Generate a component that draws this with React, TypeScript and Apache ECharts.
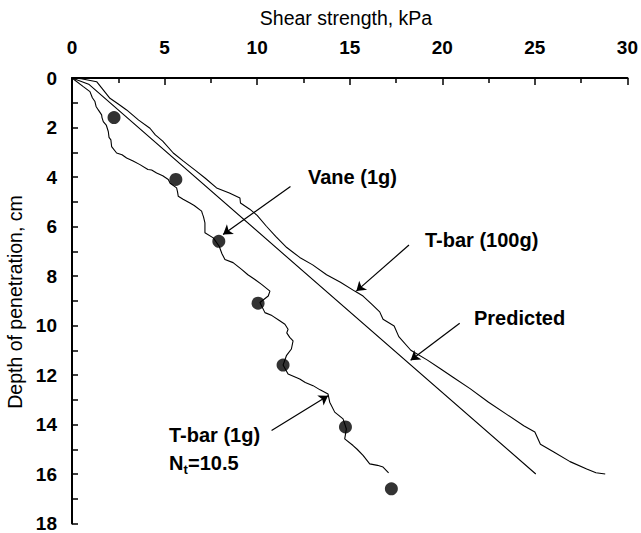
import React, { useEffect, useRef } from "react";
import * as echarts from "echarts";

// Shear strength (kPa), depth of penetration (cm)
const xTicks = [0, 5, 10, 15, 20, 25, 30];
const yTicks = [0, 2, 4, 6, 8, 10, 12, 14, 16, 18];

const tbar1g: [number, number][] = [
  [0, 0], [0.61, 0.35], [0.97, 0.55], [1.1, 0.8], [1.24, 0.95], [1.3, 1.15], [1.42, 1.29], [1.6, 1.49],
  [1.62, 1.6], [1.69, 1.76], [1.85, 1.9], [1.96, 2.16], [2.0, 2.4], [2.1, 2.5], [2.14, 2.77],
  [2.41, 3.03], [2.7, 3.1], [2.95, 3.23], [3.3, 3.35], [3.67, 3.5], [4.1, 3.7], [4.3, 3.72],
  [4.57, 3.84], [4.9, 3.95], [5.2, 4.1], [5.3, 4.25], [5.65, 4.44], [5.7, 4.6], [5.74, 4.78],
  [6.0, 4.9], [6.37, 5.05], [6.6, 5.15], [7.0, 5.38], [7.05, 5.5], [7.1, 5.6], [7.18, 5.85],
  [7.18, 6.25], [7.63, 6.46], [7.95, 6.8], [8.1, 7.1], [8.26, 7.33], [8.7, 7.46], [9.16, 7.73],
  [9.5, 7.95], [9.88, 8.14], [10.24, 8.34], [10.69, 8.61], [10.6, 8.81], [10.15, 9.07],
  [10.42, 9.48], [10.8, 9.6], [11.22, 9.81], [11.5, 9.95], [11.67, 10.15], [11.6, 10.3],
  [11.76, 10.48], [11.94, 10.62], [11.85, 10.95], [11.58, 11.22], [11.4, 11.6], [11.67, 11.96],
  [12.3, 12.16], [12.6, 12.3], [13.02, 12.43], [13.4, 12.6], [13.83, 12.77], [13.92, 13.1],
  [14.19, 13.5], [14.64, 13.77], [14.82, 14.18], [14.73, 14.58], [15.18, 14.85], [15.4, 15.0],
  [15.72, 15.25], [16.08, 15.59], [16.5, 15.65], [16.8, 15.72], [17.1, 15.95],
];

const tbar100g: [number, number][] = [
  [0, 0], [0.5, 0.03], [1.33, 0.15], [1.6, 0.4], [2.05, 0.82], [2.5, 1.05], [2.95, 1.29],
  [3.6, 1.7], [4.21, 2.03], [4.5, 2.3], [4.9, 2.55], [5.47, 3.03], [6.0, 3.35], [6.7, 3.75],
  [7.2, 4.05], [7.81, 4.44], [8.5, 4.65], [9.07, 4.85], [9.1, 5.05], [9.6, 5.3], [10.0, 5.55],
  [10.5, 5.99], [11.0, 6.4], [11.6, 6.85], [12.3, 7.25], [13.0, 7.55], [13.75, 7.95],
  [14.5, 8.25], [15.27, 8.61], [15.72, 8.81], [16.2, 9.15], [16.62, 9.45], [16.8, 9.75],
  [17.4, 10.02], [17.65, 10.45], [18.3, 11.0], [19.2, 11.4], [19.9, 11.75], [20.6, 12.1],
  [21.5, 12.55], [22.5, 13.1], [23.5, 13.6], [24.4, 14.05], [25.0, 14.3], [25.3, 14.8],
  [26.0, 15.1], [26.9, 15.5], [27.8, 15.8], [28.3, 15.95], [28.8, 16.0],
];

const predicted: [number, number][] = [[0, 0], [0.9, 0.25], [25.05, 16]];

const vane1g: [number, number][] = [
  [2.27, 1.6], [5.61, 4.1], [7.93, 6.6], [10.05, 9.1], [11.4, 11.6], [14.77, 14.1], [17.25, 16.6],
];

// leader lines (from label to target), data coordinates
const leaders: [number, number][][] = [
  [[11.8, 4.38], [8.16, 6.32]],
  [[18.2, 6.75], [15.36, 8.61]],
  [[20.94, 9.91], [18.29, 11.4]],
  [[10.78, 14.24], [13.83, 12.84]],
];

const FONT = "'Liberation Sans', Arial, sans-serif";

export default function App() {
  const ref = useRef<HTMLDivElement>(null);
  useEffect(() => {
    if (!ref.current) return;
    const chart = echarts.init(ref.current, undefined, { renderer: "svg" });
    const lineStyle = { color: "#000", width: 1.1 };
    const labelStyle = { fontFamily: FONT, fontWeight: "bold" as const, fontSize: 19, color: "#000" };
    const annStyle = { fontFamily: FONT, fontWeight: "bold", fontSize: 20, fill: "#000" };
    chart.setOption({
      animation: false,
      backgroundColor: "#fff",
      grid: { left: 72, top: 78, width: 556, height: 447 },
      xAxis: {
        type: "value",
        position: "top",
        min: xTicks[0],
        max: xTicks[xTicks.length - 1],
        interval: 5,
        axisLine: { show: true, onZero: false, lineStyle: { color: "#000", width: 2 } },
        axisTick: { show: true, inside: true, length: 7, lineStyle: { color: "#000", width: 1.5 } },
        minorTick: { show: true, splitNumber: 2, length: 5, lineStyle: { color: "#000", width: 1.5 } },
        axisLabel: { ...labelStyle, margin: 21 },
        splitLine: { show: false },
      },
      yAxis: {
        type: "value",
        inverse: true,
        min: yTicks[0],
        max: yTicks[yTicks.length - 1],
        interval: 2,
        axisLine: { show: true, onZero: false, lineStyle: { color: "#000", width: 2 } },
        axisTick: { show: true, inside: true, length: 6, lineStyle: { color: "#000", width: 1.5 } },
        minorTick: { show: true, splitNumber: 2, length: 6, lineStyle: { color: "#000", width: 1.5 } },
        axisLabel: { ...labelStyle, margin: 15 },
        splitLine: { show: false },
      },
      series: [
        { type: "line", name: "T-bar (1g)", data: tbar1g, symbol: "none", lineStyle, z: 2 },
        { type: "line", name: "T-bar (100g)", data: tbar100g, symbol: "none", lineStyle, z: 2 },
        {
          type: "line",
          name: "Predicted",
          data: predicted,
          symbol: "none",
          lineStyle,
          z: 2,
          markLine: {
            silent: true,
            symbol: ["none", "arrow"],
            symbolSize: 9,
            label: { show: false },
            lineStyle: { color: "#000", width: 1.2, type: "solid" },
            data: leaders.map((l) => [{ coord: l[0] }, { coord: l[1] }]),
          },
        },
        { type: "scatter", name: "Vane (1g)", data: vane1g, symbol: "circle", symbolSize: 13, itemStyle: { color: "#000" }, z: 3 },
      ],
      graphic: [
        {
          type: "text",
          x: 346,
          y: 18,
          style: { text: "Shear strength, kPa", font: `19.5px ${FONT}`, fill: "#000", align: "center", verticalAlign: "middle" },
        },
        {
          type: "text",
          x: 15,
          y: 302,
          rotation: Math.PI / 2,
          style: { text: "Depth of penetration, cm", font: `19.5px ${FONT}`, fill: "#000", align: "center", verticalAlign: "middle" },
        },
        { type: "text", x: 308, y: 177, style: { ...annStyle, text: "Vane (1g)", verticalAlign: "middle" } },
        { type: "text", x: 425, y: 240, style: { ...annStyle, text: "T-bar (100g)", verticalAlign: "middle" } },
        { type: "text", x: 474, y: 318, style: { ...annStyle, text: "Predicted", verticalAlign: "middle" } },
        { type: "text", x: 169, y: 435, style: { ...annStyle, text: "T-bar (1g)", verticalAlign: "middle" } },
        { type: "text", x: 169, y: 463, style: { ...annStyle, text: "N", verticalAlign: "middle" } },
        { type: "text", x: 183.5, y: 469, style: { ...annStyle, fontSize: 13, text: "t", verticalAlign: "middle" } },
        { type: "text", x: 188, y: 463, style: { ...annStyle, text: "=10.5", verticalAlign: "middle" } },
      ],
    });
    return () => chart.dispose();
  }, []);
  return <div ref={ref} style={{ position: "absolute", left: 0, top: 0, width: 641, height: 533 }} />;
}
